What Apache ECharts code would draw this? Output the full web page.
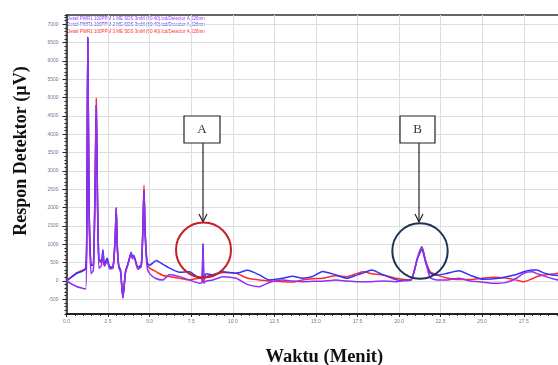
<!DOCTYPE html>
<html>
<head>
<meta charset="utf-8">
<script src="https://cdn.jsdelivr.net/npm/echarts@6/dist/echarts.min.js"></script>
<style>
  html, body { margin: 0; padding: 0; background: #fff; }
  #main { width: 558px; height: 365px; }
</style>
</head>
<body>
<div id="main"></div>
<script>
// waktu retensi (menit) dan respon detektor (uV) tiap kromatogram
const waktu = [0, 0.6, 1.15, 1.22, 1.28, 1.36, 1.48, 1.62, 1.72, 1.79, 1.87, 1.95, 2.1, 2.19, 2.28, 2.45, 2.6, 2.8, 2.93, 2.99,
  3.06, 3.15, 3.25, 3.39, 3.55, 3.7, 3.89, 3.97, 4.04, 4.3, 4.5, 4.6, 4.66, 4.73, 4.85, 5.0, 5.4, 5.8, 6.2, 6.8,
  7.4, 8.0, 8.15, 8.21, 8.27, 8.4, 8.8, 9.4, 10.2, 10.9, 11.6, 12.2, 13.0, 13.6, 14.2, 14.8, 15.4, 16.2, 16.85, 17.45,
  17.85, 18.35, 19.05, 19.85, 20.3, 20.7, 20.9, 21.1, 21.37, 21.6, 21.87, 22.3, 22.8, 23.6, 24.3, 25, 25.7, 26.4, 27, 27.5,
  28, 28.3, 28.7, 29.2, 29.6, 30];

const responMerah = [0, 220, 350, 1500, 6600, 2000, 430, 450, 2700, 4975, 2100, 570, 500, 650, 420, 560, 350, 380, 1200, 2000,
  900, 380, 280, -430, 260, 470, 740, 640, 680, 330, 430, 1600, 2610, 1350, 480, 350, 250, 150, 120, 73,
  30, 73, 60, -50, 30, 120, 163, 230, 209, 73, 27, 0, -18, -30, 27, 60, 73, 140, 118, 200,
  250, 200, 160, 73, 40, 30, 250, 620, 930, 550, 250, 160, 90, 40, 40, 73, 100, 80, 30, -18,
  60, 120, 163, 190, 209, 210];

const responBiru = [0, 200, 330, 1500, 6600, 2000, 430, 450, 2500, 4790, 2000, 600, 550, 850, 450, 620, 380, 400, 1200, 1990,
  900, 400, 300, -460, 250, 480, 780, 620, 700, 380, 450, 1500, 2480, 1300, 500, 430, 560, 450, 350, 240,
  254, 75, 100, 1025, 80, 200, 170, 250, 210, 290, 165, 30, 75, 130, 75, 120, 260, 165, 75, 160,
  220, 300, 165, 30, 15, 20, 250, 600, 860, 500, 210, 160, 200, 280, 150, 50, 60, 110, 170, 250,
  300, 300, 220, 160, 150, 150];

const responUngu = [0, -150, -220, 1400, 6650, 1800, 200, 300, 2500, 4790, 1900, 350, 420, 780, 400, 560, 330, 350, 1200, 1990,
  850, 360, 250, -470, 230, 450, 760, 600, 680, 320, 400, 1500, 2480, 1250, 380, 200, 60, 30, 180, 118,
  27, -63, -40, 1000, -60, 0, 27, 118, 73, -100, -154, -40, 27, 0, -18, -10, -5, 27, 0, -18,
  -18, -18, 0, -18, 10, 27, 250, 620, 930, 520, 90, 27, 27, 73, 0, -30, -63, -45, 60, 209,
  250, 200, 140, 70, 27, 20];

const labelY = [-500, 0, 500, 1000, 1500, 2000, 2500, 3000, 3500, 4000, 4500, 5000, 5500, 6000, 6500, 7000];

const keterangan = [
  'Detail PWR1 100PPM 1 ME SDS 3mM (60:40).lcd/Detector A,226nm',
  'Detail PWR1 100PPM 2 ME SDS 3mM (60:40).lcd/Detector A,226nm',
  'Detail PWR1 100PPM 3 ME SDS 3mM (60:40).lcd/Detector A,226nm'
];

function pasang(ys) {
  return waktu.map((t, i) => [t, ys[i]]);
}

const chart = echarts.init(document.getElementById('main'));

const option = {
  animation: false,
  backgroundColor: '#fff',
  grid: {
    left: 66.5, top: 15, width: 515.5, height: 299,
    outerBoundsMode: 'none',
    containLabel: false,
    show: true, borderColor: '#333', borderWidth: 1.5
  },
  xAxis: {
    type: 'value',
    min: 0, max: 31, interval: 2.5,
    axisLine: { onZero: false, lineStyle: { color: '#222', width: 2 } },
    axisTick: { length: 3, lineStyle: { color: '#222' } },
    minorTick: { show: true, splitNumber: 5, length: 2, lineStyle: { color: '#222' } },
    axisLabel: {
      fontSize: 5, color: '#6b7a96', margin: 5,
      formatter: v => v.toFixed(1)
    },
    splitLine: { lineStyle: { color: '#dedede', width: 1 } },
    name: 'Waktu (Menit)',
    nameLocation: 'middle',
    nameGap: 34,
    nameTextStyle: { fontFamily: 'Liberation Serif', fontWeight: 'bold', fontSize: 18.5, color: '#111' }
  },
  yAxis: [{
    type: 'value',
    position: 'left',
    min: -900, max: 7250,
    axisLine: { lineStyle: { color: '#222', width: 1.5 } },
    axisTick: { length: 4, customValues: labelY, lineStyle: { color: '#222' } },
    axisLabel: { fontSize: 5, color: '#6b7a96', margin: 8, customValues: labelY, formatter: v => String(v) },
    splitLine: { lineStyle: { color: '#dedede', width: 1 } }
  }, {
    type: 'value',
    position: 'left',
    min: -900, max: 7250, interval: 100,
    axisLine: { show: false },
    axisTick: { length: 2, lineStyle: { color: '#222' } },
    axisLabel: { show: false },
    splitLine: { show: false }
  }],
  series: [
    { name: 'merah', type: 'line', data: pasang(responMerah), showSymbol: false, smooth: 0.2,
      lineStyle: { color: '#ff2b2b', width: 1.5 }, z: 2 },
    { name: 'biru', type: 'line', data: pasang(responBiru), showSymbol: false, smooth: 0.2,
      lineStyle: { color: '#3030ff', width: 1.5 }, z: 3 },
    { name: 'ungu', type: 'line', data: pasang(responUngu), showSymbol: false, smooth: 0.2,
      lineStyle: { color: '#9030f0', width: 1.5 }, z: 4 }
  ],
  graphic: [
    { type: 'text', x: 21, y: 151, rotation: Math.PI / 2,
      style: { text: 'Respon Detektor (µV)', font: 'bold 18px "Liberation Serif"', fill: '#111',
        textAlign: 'center', textVerticalAlign: 'middle' } },
    // keterangan data
    { type: 'text', x: 67, y: 19, style: { text: keterangan[0], font: '4.5px sans-serif', fill: '#9040ff', textVerticalAlign: 'middle' } },
    { type: 'text', x: 67, y: 25, style: { text: keterangan[1], font: '4.5px sans-serif', fill: '#4040ff', textVerticalAlign: 'middle' } },
    { type: 'text', x: 67, y: 31.5, style: { text: keterangan[2], font: '4.5px sans-serif', fill: '#ff3030', textVerticalAlign: 'middle' } },
    // anotasi A
    { type: 'rect', shape: { x: 184, y: 116, width: 36, height: 27 }, style: { fill: '#fff', stroke: '#222', lineWidth: 1.2 }, z: 10 },
    { type: 'text', x: 202, y: 130, style: { text: 'A', font: '13px "Liberation Serif"', fill: '#333', textAlign: 'center', textVerticalAlign: 'middle' }, z: 11 },
    { type: 'line', shape: { x1: 203, y1: 143, x2: 203, y2: 222 }, style: { stroke: '#222', lineWidth: 1.2 }, z: 10 },
    { type: 'polyline', shape: { points: [[199, 214], [203, 222], [207, 214]] }, style: { stroke: '#222', lineWidth: 1.2, fill: null }, z: 10 },
    { type: 'circle', shape: { cx: 203.5, cy: 250, r: 27.5 }, style: { fill: null, stroke: '#c42026', lineWidth: 2 }, z: 10 },
    // anotasi B
    { type: 'rect', shape: { x: 400, y: 116, width: 35, height: 27 }, style: { fill: '#fff', stroke: '#222', lineWidth: 1.2 }, z: 10 },
    { type: 'text', x: 417.5, y: 130, style: { text: 'B', font: '13px "Liberation Serif"', fill: '#333', textAlign: 'center', textVerticalAlign: 'middle' }, z: 11 },
    { type: 'line', shape: { x1: 419, y1: 143, x2: 419, y2: 222 }, style: { stroke: '#222', lineWidth: 1.2 }, z: 10 },
    { type: 'polyline', shape: { points: [[415, 214], [419, 222], [423, 214]] }, style: { stroke: '#222', lineWidth: 1.2, fill: null }, z: 10 },
    { type: 'circle', shape: { cx: 420, cy: 251, r: 27.7 }, style: { fill: null, stroke: '#1f3358', lineWidth: 2 }, z: 10 }
  ]
};

chart.setOption(option);
</script>
</body>
</html>
